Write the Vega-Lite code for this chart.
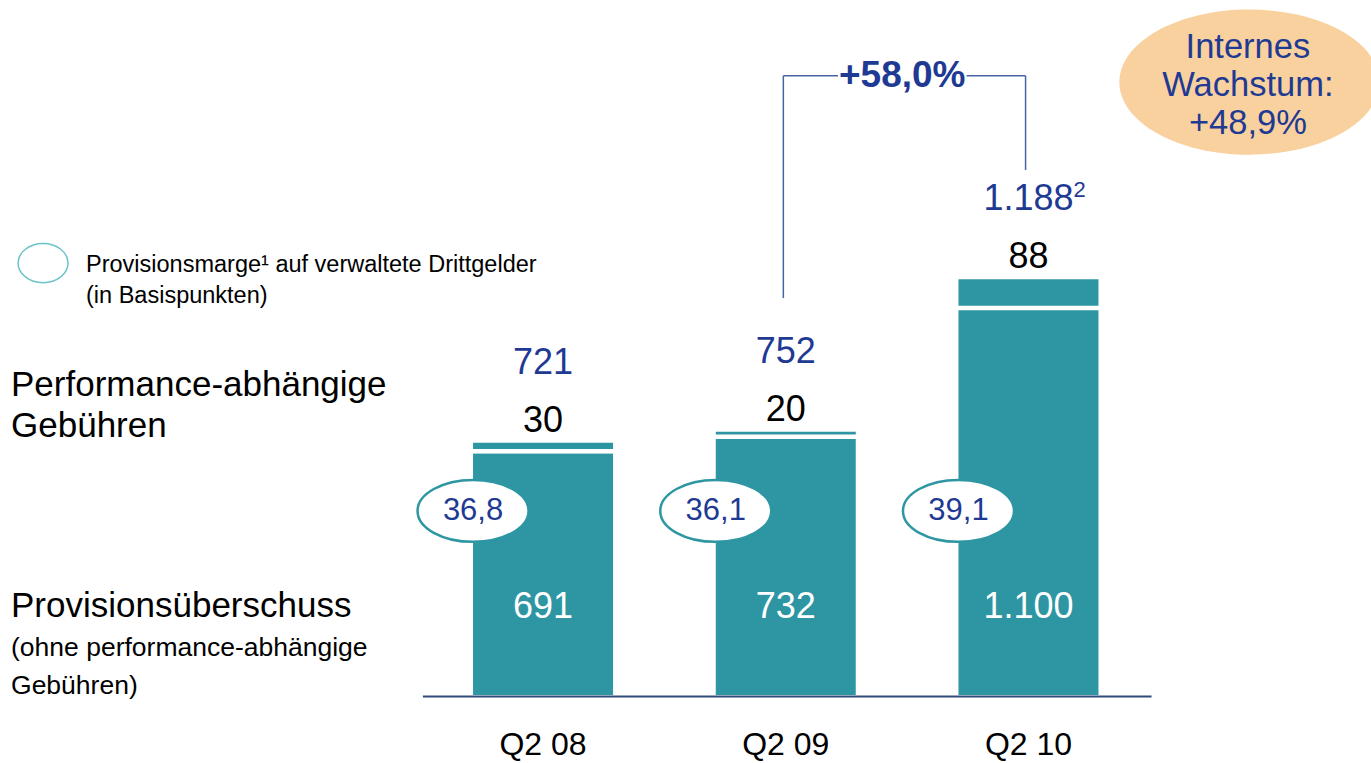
{
  "$schema": "https://vega.github.io/schema/vega-lite/v6.json",
  "width": 1371,
  "height": 763,
  "autosize": "none",
  "padding": 0,
  "background": "white",
  "config": {
    "view": {"stroke": null},
    "font": "Liberation Sans",
    "locale": {"number": {"decimal": ",", "thousands": ".", "grouping": [3], "currency": ["", " €"]}}
  },
  "data": {
    "values": [
      {"quarter": "Q2 08", "idx": 1, "base": 691, "perf": 30, "total": 721, "margin": 36.8, "fn": null},
      {"quarter": "Q2 09", "idx": 2, "base": 732, "perf": 20, "total": 752, "margin": 36.1, "fn": null},
      {"quarter": "Q2 10", "idx": 3, "base": 1100, "perf": 88, "total": 1188, "margin": 39.1, "fn": "2"}
    ]
  },
  "layer": [
    {
      "mark": {"type": "bar", "size": 140, "color": "#2E96A3"},
      "encoding": {
        "x": {"field": "idx", "type": "quantitative", "scale": {"domain": [-1.2168, 4.3906], "nice": false, "zero": false}, "axis": null},
        "y": {"field": "base", "type": "quantitative", "scale": {"domain": [-194.29, 1985.71], "nice": false, "zero": false}, "axis": null},
        "y2": {"datum": 0}
      }
    },
    {
      "mark": {"type": "bar", "size": 140, "color": "#2E96A3"},
      "encoding": {
        "x": {"field": "idx", "type": "quantitative"},
        "y": {"field": "base", "type": "quantitative"},
        "y2": {"field": "total"}
      }
    },
    {
      "mark": {"type": "tick", "orient": "horizontal", "color": "white", "thickness": 4.5, "size": 142, "yOffset": -2, "opacity": 1},
      "encoding": {
        "x": {"field": "idx", "type": "quantitative"},
        "y": {"field": "base", "type": "quantitative"}
      }
    },
    {
      "mark": {"type": "text", "color": "white", "fontSize": 36, "baseline": "middle", "align": "center"},
      "encoding": {
        "x": {"field": "idx", "type": "quantitative"},
        "y": {"datum": 251, "type": "quantitative"},
        "text": {"field": "base", "type": "quantitative", "format": ",d"}
      }
    },
    {
      "mark": {"type": "text", "color": "black", "fontSize": 36, "baseline": "middle", "align": "center", "dy": -22},
      "encoding": {
        "x": {"field": "idx", "type": "quantitative"},
        "y": {"field": "total", "type": "quantitative"},
        "text": {"field": "perf", "type": "quantitative", "format": ",d"}
      }
    },
    {
      "mark": {"type": "text", "color": "#1F3A93", "fontSize": 36, "baseline": "middle", "align": "center", "dy": -80},
      "encoding": {
        "x": {"field": "idx", "type": "quantitative"},
        "y": {"field": "total", "type": "quantitative"},
        "text": {"field": "total", "type": "quantitative", "format": ",d"}
      }
    },
    {
      "transform": [{"filter": "datum.fn != null"}],
      "mark": {"type": "text", "color": "#1F3A93", "fontSize": 22, "baseline": "middle", "align": "left", "dy": -89, "dx": 45},
      "encoding": {
        "x": {"field": "idx", "type": "quantitative"},
        "y": {"field": "total", "type": "quantitative"},
        "text": {"field": "fn", "type": "nominal"}
      }
    },
    {
      "mark": {"type": "point", "shape": "M-1,0C-1,-0.308,-0.552,-0.558,0,-0.558C0.552,-0.558,1,-0.308,1,0C1,0.308,0.552,0.558,0,0.558C-0.552,0.558,-1,0.308,-1,0Z", "size": 12321, "filled": true, "fill": "white", "stroke": "#2E96A3", "strokeWidth": 2.5, "opacity": 1, "xOffset": -70},
      "encoding": {
        "x": {"field": "idx", "type": "quantitative"},
        "y": {"datum": 526, "type": "quantitative"}
      }
    },
    {
      "mark": {"type": "text", "color": "#1F3A93", "fontSize": 31, "baseline": "middle", "align": "center", "dx": -70},
      "encoding": {
        "x": {"field": "idx", "type": "quantitative"},
        "y": {"datum": 526, "type": "quantitative"},
        "text": {"field": "margin", "type": "quantitative", "format": ".1f"}
      }
    },
    {
      "mark": {"type": "text", "color": "black", "fontSize": 32, "baseline": "middle", "align": "center"},
      "encoding": {
        "x": {"field": "idx", "type": "quantitative"},
        "y": {"datum": -144, "type": "quantitative"},
        "text": {"field": "quarter", "type": "nominal"}
      }
    },
    {
      "data": {"values": [{"label": "axis"}]},
      "mark": {"type": "rule", "color": "#2F4A7A", "strokeWidth": 2, "yOffset": 1.5},
      "encoding": {
        "x": {"datum": 0.505, "type": "quantitative"},
        "x2": {"datum": 3.507},
        "y": {"datum": 0, "type": "quantitative"}
      }
    },
    {
      "data": {"values": [{"label": "bracket"}]},
      "layer": [
        {
          "mark": {"type": "rule", "color": "#4664A6", "strokeWidth": 1.5},
          "encoding": {"x": {"datum": 1.99, "type": "quantitative"}, "y": {"datum": 1134, "type": "quantitative"}, "y2": {"datum": 1769}}
        },
        {
          "mark": {"type": "rule", "color": "#4664A6", "strokeWidth": 1.5},
          "encoding": {"x": {"datum": 1.99, "type": "quantitative"}, "x2": {"datum": 2.215}, "y": {"datum": 1769, "type": "quantitative"}}
        },
        {
          "mark": {"type": "rule", "color": "#4664A6", "strokeWidth": 1.5},
          "encoding": {"x": {"datum": 2.745, "type": "quantitative"}, "x2": {"datum": 2.988}, "y": {"datum": 1769, "type": "quantitative"}}
        },
        {
          "mark": {"type": "rule", "color": "#4664A6", "strokeWidth": 1.5},
          "encoding": {"x": {"datum": 2.988, "type": "quantitative"}, "y": {"datum": 1500, "type": "quantitative"}, "y2": {"datum": 1769}}
        }
      ]
    },
    {
      "data": {"values": [{"label": "+58,0%"}]},
      "mark": {"type": "text", "color": "#1F3A93", "fontSize": 37, "fontWeight": "bold", "baseline": "middle", "align": "center"},
      "encoding": {
        "x": {"datum": 2.48, "type": "quantitative"},
        "y": {"datum": 1769, "type": "quantitative"},
        "text": {"field": "label", "type": "nominal"}
      }
    },
    {
      "data": {"values": [{"label": "Internes\nWachstum:\n+48,9%"}]},
      "layer": [
        {
          "mark": {"type": "point", "shape": "M-1,0C-1,-0.308,-0.552,-0.558,0,-0.558C0.552,-0.558,1,-0.308,1,0C1,0.308,0.552,0.558,0,0.558C-0.552,0.558,-1,0.308,-1,0Z", "size": 67600, "filled": true, "fill": "#F9D19E", "strokeWidth": 0, "opacity": 1},
          "encoding": {"x": {"datum": 3.91, "type": "quantitative"}, "y": {"datum": 1751, "type": "quantitative"}}
        },
        {
          "mark": {"type": "text", "color": "#1F3A93", "fontSize": 34.5, "baseline": "middle", "align": "center", "lineBreak": "\n", "lineHeight": 38},
          "encoding": {"x": {"datum": 3.904, "type": "quantitative"}, "y": {"datum": 1848, "type": "quantitative"}, "text": {"field": "label", "type": "nominal"}}
        }
      ]
    },
    {
      "data": {"values": [{"label": "Provisionsmarge¹ auf verwaltete Drittgelder\n(in Basispunkten)"}]},
      "layer": [
        {
          "mark": {"type": "point", "shape": "M-1,0C-1,-0.433,-0.552,-0.784,0,-0.784C0.552,-0.784,1,-0.433,1,0C1,0.433,0.552,0.784,0,0.784C-0.552,0.784,-1,0.433,-1,0Z", "size": 2500, "filled": true, "fill": "white", "stroke": "#6CC3C9", "strokeWidth": 1.5, "opacity": 1},
          "encoding": {"x": {"datum": -1.06, "type": "quantitative"}, "y": {"datum": 1234, "type": "quantitative"}}
        },
        {
          "mark": {"type": "text", "color": "black", "fontSize": 23.5, "baseline": "middle", "align": "left", "lineBreak": "\n", "lineHeight": 31},
          "encoding": {"x": {"datum": -0.883, "type": "quantitative"}, "y": {"datum": 1229, "type": "quantitative"}, "text": {"field": "label", "type": "nominal"}}
        }
      ]
    },
    {
      "data": {"values": [{"label": "Performance-abhängige\nGebühren"}]},
      "mark": {"type": "text", "color": "black", "fontSize": 35, "baseline": "middle", "align": "left", "lineBreak": "\n", "lineHeight": 41},
      "encoding": {"x": {"datum": -1.192, "type": "quantitative"}, "y": {"datum": 886, "type": "quantitative"}, "text": {"field": "label", "type": "nominal"}}
    },
    {
      "data": {"values": [{"label": "Provisionsüberschuss"}]},
      "mark": {"type": "text", "color": "black", "fontSize": 35, "baseline": "middle", "align": "left"},
      "encoding": {"x": {"datum": -1.192, "type": "quantitative"}, "y": {"datum": 254, "type": "quantitative"}, "text": {"field": "label", "type": "nominal"}}
    },
    {
      "data": {"values": [{"label": "(ohne performance-abhängige\nGebühren)"}]},
      "mark": {"type": "text", "color": "black", "fontSize": 26.5, "baseline": "middle", "align": "left", "lineBreak": "\n", "lineHeight": 38},
      "encoding": {"x": {"datum": -1.192, "type": "quantitative"}, "y": {"datum": 134, "type": "quantitative"}, "text": {"field": "label", "type": "nominal"}}
    }
  ]
}
